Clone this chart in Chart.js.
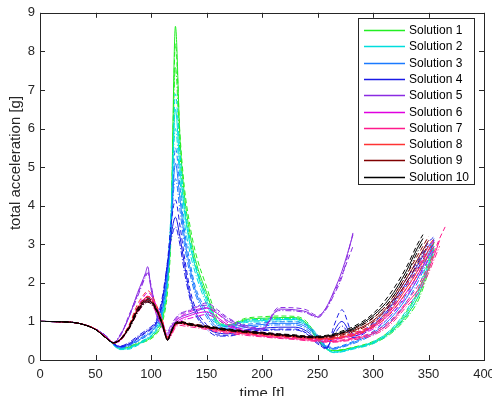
<!DOCTYPE html>
<html>
<head>
<meta charset="utf-8">
<script src="https://cdn.jsdelivr.net/npm/chart.js@4"></script>
<style>
  html, body { margin: 0; padding: 0; background: #fff; }
  canvas { display: block; }
</style>
</head>
<body>
<canvas id="myChart" width="492" height="396"></canvas>
<script>
// shared time grid [t]
var time = [0, 20, 35, 50, 60, 66, 72, 80, 88, 95, 97, 100, 105, 110, 115, 118, 122, 126, 130, 135, 140, 150, 160, 170, 185, 200, 215, 230, 240, 250, 258, 265, 272, 282, 300, 315, 330, 340, 345, 350, 355, 360, 365];

// total acceleration [g], three runs per solution (solid, dashed, dash-dot)
var sol1a = [1.0,0.99,0.95,0.8,0.6,0.42,0.3,0.33,0.42,0.5,0.52,0.58,0.72,1.0,2.0,3.4,8.65,5.8,4.3,3.3,2.6,1.75,1.0,0.9,1.05,1.08,1.1,1.1,0.95,0.55,0.3,0.24,0.26,0.32,0.45,0.7,1.15,1.6,1.95,2.4,2.9,null,null];
var sol1b = [1.0,0.99,0.95,0.8,0.6,0.41,0.29,0.31,0.4,0.48,0.5,0.55,0.68,0.95,1.8,3.2,8.2,5.9,4.5,3.5,2.8,1.9,1.1,0.92,1.08,1.12,1.14,1.13,1.0,0.6,0.32,0.25,0.27,0.33,0.48,0.75,1.25,1.75,2.1,2.6,3.05,null,null];
var sol1c = [1.0,0.99,0.95,0.8,0.6,0.43,0.31,0.35,0.44,0.53,0.55,0.62,0.78,1.1,2.2,3.7,7.6,5.4,4.0,3.1,2.45,1.65,0.95,0.88,1.02,1.05,1.07,1.07,0.92,0.52,0.28,0.23,0.25,0.3,0.43,0.66,1.08,1.5,1.85,2.3,2.8,null,null];

var sol2a = [1.0,0.99,0.95,0.8,0.58,0.4,0.28,0.3,0.4,0.52,0.56,0.62,0.8,1.15,2.2,3.6,6.5,5.0,3.9,3.0,2.4,1.55,0.95,0.88,1.0,1.02,1.05,1.05,0.92,0.6,0.3,0.2,0.22,0.3,0.45,0.72,1.2,1.7,2.05,2.5,2.95,null,null];
var sol2b = [1.0,0.99,0.95,0.8,0.58,0.39,0.27,0.28,0.38,0.5,0.53,0.6,0.76,1.1,2.0,3.4,6.9,5.4,4.1,3.15,2.5,1.65,1.0,0.9,1.03,1.06,1.08,1.08,0.96,0.65,0.32,0.21,0.23,0.31,0.47,0.76,1.28,1.8,2.2,2.65,3.1,null,null];
var sol2c = [1.0,0.99,0.95,0.8,0.59,0.41,0.3,0.32,0.42,0.55,0.59,0.66,0.85,1.25,2.4,3.8,6.0,4.7,3.6,2.8,2.25,1.45,0.92,0.86,0.97,0.99,1.01,1.01,0.88,0.56,0.28,0.19,0.21,0.28,0.42,0.68,1.12,1.6,1.95,2.4,2.85,null,null];

var sol3a = [1.0,0.99,0.95,0.8,0.6,0.42,0.32,0.38,0.5,0.62,0.66,0.72,0.92,1.3,2.3,3.4,5.1,4.2,3.2,2.4,1.8,1.2,0.85,0.82,0.88,0.92,0.95,0.95,0.85,0.6,0.35,0.3,0.35,0.45,0.7,1.05,1.6,2.1,2.4,2.75,3.05,null,null];
var sol3b = [1.0,0.99,0.95,0.8,0.6,0.41,0.31,0.36,0.48,0.6,0.63,0.7,0.88,1.25,2.2,3.3,5.5,4.5,3.4,2.55,1.9,1.28,0.9,0.86,0.92,0.96,0.99,0.99,0.9,0.65,0.38,0.32,0.37,0.48,0.74,1.12,1.7,2.2,2.5,2.85,3.15,null,null];
var sol3c = [1.0,0.99,0.95,0.8,0.61,0.43,0.33,0.4,0.53,0.65,0.7,0.76,0.98,1.4,2.45,3.5,4.7,3.9,3.0,2.25,1.7,1.12,0.8,0.78,0.84,0.88,0.91,0.91,0.8,0.56,0.33,0.28,0.33,0.42,0.66,0.98,1.5,2.0,2.3,2.65,2.95,null,null];

var sol4a = [1.0,0.99,0.95,0.8,0.6,0.43,0.35,0.42,0.58,0.72,0.76,0.82,1.0,1.5,2.5,3.2,3.7,3.2,2.5,1.7,1.25,0.85,0.7,0.68,0.78,0.82,0.85,0.85,0.75,0.5,0.3,0.75,1.0,0.62,0.9,1.35,2.0,2.45,2.7,2.95,3.1,null,null];
var sol4b = [1.0,0.99,0.95,0.8,0.6,0.42,0.34,0.4,0.55,0.7,0.73,0.8,0.96,1.45,2.6,3.5,4.15,3.5,2.7,1.85,1.35,0.92,0.65,0.64,0.74,0.78,0.8,0.8,0.7,0.45,0.28,0.9,1.3,0.68,0.95,1.42,2.1,2.55,2.8,3.05,3.2,null,null];
var sol4c = [1.0,0.99,0.95,0.8,0.61,0.44,0.36,0.45,0.62,0.76,0.8,0.86,1.05,1.6,2.55,3.1,3.45,3.0,2.3,1.6,1.18,0.8,0.62,0.62,0.72,0.76,0.78,0.78,0.68,0.42,0.32,0.65,0.88,0.58,0.86,1.3,1.92,2.35,2.6,2.85,3.0,null,null];

var sol5a = [1.0,0.99,0.95,0.8,0.6,0.45,0.62,1.1,1.75,2.25,2.42,1.85,1.15,0.85,0.65,0.8,1.0,1.1,1.15,1.2,1.25,1.35,1.2,1.0,0.85,0.78,1.32,1.3,1.25,1.12,1.37,1.8,2.3,3.25,null,null,null,null,null,null,null,null,null];
var sol5b = [1.0,0.99,0.95,0.8,0.6,0.46,0.6,1.15,1.7,2.2,2.3,1.95,1.25,0.9,0.7,0.85,1.05,1.18,1.22,1.28,1.35,1.48,1.3,1.08,0.9,0.82,1.36,1.35,1.3,1.15,1.35,1.75,2.2,2.95,null,null,null,null,null,null,null,null,null];
var sol5c = [1.0,0.99,0.95,0.8,0.6,0.45,0.65,1.1,1.65,2.15,2.25,1.9,1.3,0.95,0.75,0.9,1.08,1.2,1.25,1.3,1.38,1.42,1.25,1.05,0.88,0.8,1.28,1.27,1.22,1.1,1.32,1.7,2.15,3.3,null,null,null,null,null,null,null,null,null];

var sol6a = [1.0,0.99,0.95,0.8,0.58,0.45,0.5,0.85,1.3,1.6,1.65,1.6,1.35,1.0,0.6,0.7,0.95,1.05,1.1,1.15,1.2,1.25,1.1,0.9,0.75,0.7,0.65,0.6,0.58,0.55,0.54,0.55,0.58,0.65,0.85,1.2,1.75,2.2,2.45,2.7,2.95,null,null];
var sol6b = [1.0,0.99,0.95,0.8,0.58,0.45,0.5,0.88,1.38,1.7,1.75,1.68,1.4,1.05,0.62,0.75,1.0,1.12,1.18,1.25,1.3,1.35,1.2,0.95,0.78,0.72,0.67,0.62,0.6,0.57,0.56,0.57,0.6,0.68,0.9,1.28,1.85,2.3,2.6,2.85,3.1,null,null];
var sol6c = [1.0,0.99,0.95,0.8,0.58,0.45,0.49,0.82,1.25,1.52,1.56,1.52,1.3,0.98,0.58,0.68,0.9,1.0,1.05,1.08,1.12,1.18,1.05,0.87,0.73,0.68,0.63,0.58,0.56,0.53,0.52,0.53,0.56,0.62,0.8,1.12,1.65,2.1,2.35,2.6,2.85,null,null];

var sol7a = [1.0,0.99,0.95,0.8,0.58,0.45,0.52,0.85,1.3,1.55,1.57,1.52,1.28,0.92,0.55,0.65,0.88,0.95,0.92,0.9,0.88,0.82,0.76,0.72,0.67,0.62,0.58,0.55,0.52,0.5,0.48,0.48,0.5,0.55,0.68,0.95,1.45,1.8,2.05,2.35,2.7,3.1,null];
var sol7b = [1.0,0.99,0.95,0.8,0.58,0.45,0.53,0.88,1.35,1.62,1.65,1.6,1.35,0.98,0.58,0.68,0.92,1.0,0.97,0.94,0.91,0.85,0.79,0.74,0.69,0.64,0.6,0.57,0.54,0.52,0.5,0.5,0.52,0.57,0.72,1.0,1.5,1.9,2.15,2.45,2.8,3.15,3.45];
var sol7c = [1.0,0.99,0.95,0.8,0.58,0.44,0.5,0.8,1.22,1.48,1.5,1.45,1.22,0.88,0.52,0.62,0.84,0.9,0.88,0.86,0.84,0.79,0.73,0.69,0.64,0.6,0.56,0.53,0.5,0.48,0.46,0.46,0.48,0.52,0.64,0.9,1.38,1.7,1.95,2.25,2.6,2.95,null];

var sol8a = [1.0,0.99,0.95,0.8,0.57,0.45,0.52,0.85,1.35,1.62,1.65,1.6,1.35,1.0,0.58,0.7,0.92,0.97,0.95,0.92,0.9,0.85,0.8,0.76,0.71,0.67,0.63,0.6,0.57,0.56,0.55,0.56,0.6,0.66,0.88,1.25,1.85,2.3,2.55,2.85,3.05,null,null];
var sol8b = [1.0,0.99,0.95,0.8,0.57,0.45,0.53,0.9,1.45,1.75,1.8,1.72,1.42,1.05,0.6,0.72,0.95,1.0,0.98,0.95,0.92,0.87,0.82,0.78,0.73,0.69,0.65,0.62,0.59,0.58,0.57,0.58,0.62,0.7,0.92,1.32,1.95,2.4,2.65,2.95,3.15,null,null];
var sol8c = [1.0,0.99,0.95,0.8,0.57,0.44,0.5,0.82,1.28,1.55,1.58,1.55,1.32,0.96,0.56,0.68,0.9,0.95,0.93,0.9,0.88,0.83,0.78,0.74,0.69,0.65,0.61,0.58,0.55,0.54,0.53,0.54,0.57,0.63,0.84,1.18,1.75,2.2,2.45,2.75,2.95,null,null];

var sol9a = [1.0,0.99,0.95,0.79,0.56,0.45,0.52,0.83,1.3,1.55,1.57,1.52,1.3,0.95,0.53,0.72,0.93,0.97,0.95,0.92,0.9,0.86,0.82,0.78,0.73,0.69,0.65,0.62,0.6,0.59,0.6,0.62,0.68,0.76,1.02,1.45,2.1,2.6,2.85,3.1,null,null,null];
var sol9b = [1.0,0.99,0.95,0.79,0.56,0.45,0.53,0.86,1.36,1.6,1.62,1.56,1.33,0.98,0.55,0.74,0.95,0.99,0.97,0.94,0.92,0.88,0.84,0.8,0.75,0.71,0.67,0.64,0.62,0.61,0.62,0.64,0.7,0.8,1.08,1.52,2.2,2.7,2.95,3.2,null,null,null];
var sol9c = [1.0,0.99,0.95,0.79,0.56,0.44,0.51,0.8,1.25,1.5,1.52,1.48,1.27,0.93,0.52,0.7,0.91,0.95,0.93,0.9,0.88,0.84,0.8,0.76,0.71,0.67,0.63,0.6,0.58,0.57,0.58,0.6,0.65,0.73,0.98,1.4,2.0,2.5,2.75,3.0,null,null,null];

var sol10a = [1.0,0.99,0.95,0.79,0.56,0.45,0.52,0.82,1.28,1.52,1.55,1.5,1.3,0.95,0.52,0.72,0.95,0.98,0.96,0.93,0.9,0.86,0.82,0.78,0.74,0.7,0.66,0.63,0.6,0.6,0.62,0.66,0.72,0.82,1.15,1.6,2.3,2.9,3.15,null,null,null,null];
var sol10b = [1.0,0.99,0.95,0.79,0.56,0.45,0.53,0.85,1.33,1.57,1.6,1.55,1.33,0.97,0.54,0.74,0.97,1.0,0.98,0.95,0.92,0.88,0.84,0.8,0.76,0.72,0.68,0.65,0.62,0.62,0.64,0.68,0.75,0.86,1.2,1.7,2.4,3.0,3.25,null,null,null,null];
var sol10c = [1.0,0.99,0.95,0.79,0.56,0.44,0.51,0.8,1.24,1.48,1.5,1.46,1.27,0.93,0.51,0.7,0.93,0.96,0.94,0.91,0.88,0.84,0.8,0.76,0.72,0.68,0.64,0.61,0.58,0.58,0.6,0.64,0.7,0.79,1.1,1.52,2.2,2.8,3.05,null,null,null,null];

var names = ['Solution 1','Solution 2','Solution 3','Solution 4','Solution 5','Solution 6','Solution 7','Solution 8','Solution 9','Solution 10'];
var colors = ['#22ee22','#00dddd','#1a7aff','#1a1ae6','#8a2be2','#e000e0','#ff1a8c','#ff3333','#800000','#000000'];
var xTicks = [0, 50, 100, 150, 200, 250, 300, 350, 400];
var yTicks = [0, 1, 2, 3, 4, 5, 6, 7, 8, 9];

var runs = [
    [sol1a, sol1b, sol1c], [sol2a, sol2b, sol2c], [sol3a, sol3b, sol3c], [sol4a, sol4b, sol4c], [sol5a, sol5b, sol5c],
    [sol6a, sol6b, sol6c], [sol7a, sol7b, sol7c], [sol8a, sol8b, sol8c], [sol9a, sol9b, sol9c], [sol10a, sol10b, sol10c]
];
var dashes = [[], [5, 3], [6, 2, 1, 2]];

var FONT = "'Liberation Sans', Arial, Helvetica, sans-serif";
var AXIS = '#262626';

function toPoints(vals) {
    return time.map(function (t, i) { return { x: t, y: vals[i] }; });
}

var datasets = [];
runs.forEach(function (set, s) {
    set.forEach(function (vals, k) {
        datasets.push({
            label: names[s],
            data: toPoints(vals),
            borderColor: colors[s],
            borderWidth: 1,
            borderDash: dashes[k],
            pointRadius: 0,
            fill: false,
            cubicInterpolationMode: 'monotone',
            order: 10 - s
        });
    });
});

// box, inward ticks, axis titles and legend drawn MATLAB style
var frame = {
    id: 'frame',
    afterDraw: function (chart) {
        var ctx = chart.ctx, a = chart.chartArea;
        var xs = chart.scales.x, ys = chart.scales.y;
        ctx.save();
        ctx.setLineDash([]);
        ctx.strokeStyle = AXIS;
        ctx.lineWidth = 1;
        ctx.beginPath();
        xTicks.forEach(function (v) {
            var px = Math.round(xs.getPixelForValue(v)) + 0.5;
            ctx.moveTo(px, a.bottom); ctx.lineTo(px, a.bottom - 5);
            ctx.moveTo(px, a.top); ctx.lineTo(px, a.top + 5);
        });
        yTicks.forEach(function (v) {
            var py = Math.round(ys.getPixelForValue(v)) + 0.5;
            ctx.moveTo(a.left, py); ctx.lineTo(a.left + 5, py);
            ctx.moveTo(a.right, py); ctx.lineTo(a.right - 5, py);
        });
        ctx.stroke();
        ctx.strokeRect(Math.round(a.left) + 0.5, Math.round(a.top) + 0.5, Math.round(a.right - a.left), Math.round(a.bottom - a.top));

        // axis titles
        ctx.fillStyle = AXIS;
        ctx.font = '15px ' + FONT;
        ctx.textAlign = 'center';
        ctx.textBaseline = 'top';
        ctx.fillText('time [t]', (a.left + a.right) / 2, 386);
        ctx.save();
        ctx.translate(16, 163);
        ctx.rotate(-Math.PI / 2);
        ctx.textBaseline = 'middle';
        ctx.fillText('total acceleration [g]', 0, 0);
        ctx.restore();

        // legend
        var lx = 358, ly = 18, lw = 116, lh = 166;
        ctx.fillStyle = '#ffffff';
        ctx.fillRect(lx, ly, lw, lh);
        ctx.strokeStyle = AXIS;
        ctx.strokeRect(lx + 0.5, ly + 0.5, lw, lh);
        ctx.font = '12px ' + FONT;
        ctx.textAlign = 'left';
        ctx.textBaseline = 'middle';
        names.forEach(function (n, i) {
            var y = Math.round(30 + i * 16.3) + 0.5;
            ctx.strokeStyle = colors[i];
            ctx.lineWidth = 1.5;
            ctx.beginPath();
            ctx.moveTo(364, y); ctx.lineTo(405, y);
            ctx.stroke();
            ctx.fillStyle = '#000000';
            ctx.fillText(n, 409, y);
        });
        ctx.restore();
    }
};

var ctx = document.getElementById('myChart').getContext('2d');
var myChart = new Chart(ctx, {
    type: 'line',
    data: { datasets: datasets },
    options: {
        responsive: false,
        animation: false,
        devicePixelRatio: 1,
        layout: { padding: { top: 9, right: 8, left: 0, bottom: 0 } },
        plugins: { legend: { display: false }, tooltip: { enabled: false } },
        scales: {
            x: {
                type: 'linear',
                min: 0, max: 400,
                afterFit: function (s) { s.height = 36; s.paddingLeft = 0; s.paddingRight = 0; },
                afterBuildTicks: function (s) { s.ticks = xTicks.map(function (v) { return { value: v }; }); },
                grid: { display: false, drawTicks: false },
                border: { display: false },
                ticks: { color: AXIS, font: { size: 13, family: FONT }, padding: 7, maxRotation: 0 }
            },
            y: {
                type: 'linear',
                min: 0, max: 9,
                afterFit: function (s) { s.width = 40; },
                afterBuildTicks: function (s) { s.ticks = yTicks.map(function (v) { return { value: v }; }); },
                grid: { display: false, drawTicks: false },
                border: { display: false },
                ticks: { color: AXIS, font: { size: 13, family: FONT }, padding: 5 }
            }
        }
    },
    plugins: [frame]
});
</script>
</body>
</html>
